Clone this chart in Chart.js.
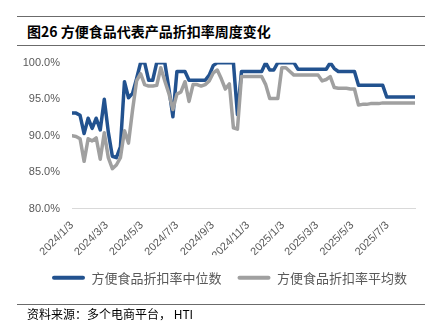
<!DOCTYPE html>
<html>
<head>
<meta charset="utf-8">
<script src="https://cdn.jsdelivr.net/npm/chart.js@4.4.0/dist/chart.umd.min.js"></script>
<style>
  body { margin: 0; width: 438px; height: 336px; position: relative; background: #fff; overflow: hidden; font-family: "Noto Sans CJK SC", sans-serif; color: #000; }
  canvas { position: absolute; left: 0; top: 0; }
  .rule { position: absolute; left: 17px; width: 408px; height: 0; border-top: 1px solid #6b6b6b; }
  #title { position: absolute; left: 27px; top: 22px; font-size: 14px; font-weight: bold; line-height: 18px; white-space: nowrap; }
  #source { position: absolute; left: 27px; top: 306px; font-size: 12px; line-height: 16px; white-space: nowrap; }
</style>
</head>
<body>
<div class="rule" style="top:16px"></div>
<div id="title">图26 方便食品代表产品折扣率周度变化</div>
<div class="rule" style="top:45px"></div>
<canvas id="chart" width="438" height="336"></canvas>
<div class="rule" style="top:304px"></div>
<div id="source">资料来源：多个电商平台， HTI</div>
<script>
'use strict';

const startDate = '2024/1/3'; // first weekly observation
const seriesNames = ['方便食品折扣率中位数', '方便食品折扣率平均数'];
const tickLabels = ['2024/1/3', '2024/3/3', '2024/5/3', '2024/7/3', '2024/9/3', '2024/11/3',
                    '2025/1/3', '2025/3/3', '2025/5/3', '2025/7/3'];
const yTicks = [80, 85, 90, 95, 100];

// weekly discount rate, %
const median = [
  93.1, 93.1, 92.8, 90.3, 92.4, 91.0, 92.4, 90.8, 95.0, 90.5,
  87.2, 87.0, 88.5, 97.4, 95.2, 95.8, 97.8, 100, 100, 97.6,
  97.6, 100, 100, 100, 96.5, 92.6, 98.8, 98.8, 98.8, 97.6,
  97.6, 97.6, 97.6, 97.6, 98.3, 99.6, 100, 100, 100, 100,
  100, 92.9, 98.8, 98.8, 98.8, 98.8, 98.8, 98.8, 100, 99.0,
  99.0, 100, 100, 100, 100, 100, 99.1, 99.1, 99.1, 99.1,
  99.1, 99.1, 99.1, 99.1, 100, 99.2, 98.8, 98.8, 98.8, 98.8,
  98.8, 96.9, 96.9, 96.9, 96.9, 96.9, 96.9, 96.9, 95.3, 95.3,
  95.3, 95.3, 95.3, 95.3, 95.3, 95.3
];
const mean = [
  90.0, 89.9, 89.6, 86.5, 89.6, 89.3, 89.7, 86.8, 90.4, 87.0,
  85.5, 86.0, 87.0, 90.7, 89.0, 93.5, 97.5, 98.5, 97.0, 96.8,
  96.8, 96.9, 99.3, 97.5, 95.8, 93.6, 95.7, 96.0, 97.4, 94.7,
  97.0, 97.0, 96.8, 97.0, 97.5, 98.6, 99.0, 97.8, 96.4, 97.1,
  91.1, 90.9, 98.1, 98.1, 98.1, 98.1, 98.1, 98.1, 97.0, 95.1,
  95.1, 95.1, 99.3, 99.3, 98.8, 98.3, 98.3, 98.3, 98.3, 98.3,
  98.3, 98.3, 97.5, 97.7, 98.1, 96.6, 96.5, 96.5, 96.5, 96.4,
  96.4, 94.2, 94.3, 94.3, 94.4, 94.4, 94.4, 94.5, 94.5, 94.5,
  94.5, 94.5, 94.5, 94.5, 94.5, 94.5
];

function dayOffset (s) {
  const [y, m, d] = s.split('/').map(Number);
  const [y0, m0, d0] = startDate.split('/').map(Number);
  return (Date.UTC(y, m - 1, d) - Date.UTC(y0, m0 - 1, d0)) / 86400000;
}

const tickDays = tickLabels.map(dayOffset);
const toPoints = arr => arr.map((v, i) => ({ x: i * 7, y: v }));

const tickColor = '#595959';

// nudge the legend right so it is centred like the original
const legendShift = {
  id: 'legendShift',
  afterLayout (chart) {
    chart.legend.left += 22;
    chart.legend.right += 22;
  }
};

new Chart(document.getElementById('chart').getContext('2d'), {
  type: 'line',
  data: {
    datasets: [
      // gray first so it sits on top, legend reversed to keep median first
      {
        label: seriesNames[1],
        data: toPoints(mean),
        borderColor: '#a0a0a0',
        backgroundColor: '#a0a0a0'
      },
      {
        label: seriesNames[0],
        data: toPoints(median),
        borderColor: '#22528f',
        backgroundColor: '#22528f'
      }
    ]
  },
  plugins: [legendShift],
  options: {
    responsive: false,
    animation: false,
    devicePixelRatio: 1,
    layout: { padding: { top: 62.7, left: 0, right: 23, bottom: 41.75 } },
    elements: {
      line: { borderWidth: 3.5, tension: 0, borderJoinStyle: 'round', borderCapStyle: 'round' },
      point: { radius: 0 }
    },
    plugins: {
      tooltip: { enabled: false },
      legend: {
        position: 'bottom',
        reverse: true,
        labels: {
          boxWidth: 33,
          boxHeight: 4,
          padding: 16,
          color: tickColor,
          useBorderRadius: true,
          borderRadius: 2,
          font: { family: '"Noto Sans CJK SC"', size: 13 },
          generateLabels: chart => Chart.defaults.plugins.legend.labels.generateLabels(chart)
            .map(item => Object.assign(item, { lineWidth: 0 }))
        }
      }
    },
    scales: {
      x: {
        type: 'linear',
        min: 0,
        max: (median.length - 1) * 7,
        grid: { display: false, drawTicks: false },
        border: { display: true, color: '#d9d9d9', width: 1 },
        afterBuildTicks: scale => { scale.ticks = tickDays.map(v => ({ value: v })); },
        afterFit: scale => { scale.height = 46.4; },
        ticks: {
          autoSkip: false,
          minRotation: 45,
          maxRotation: 45,
          padding: 10,
          color: tickColor,
          font: { family: '"Liberation Sans", sans-serif', size: 11 },
          callback: v => tickLabels[tickDays.indexOf(v)]
        }
      },
      y: {
        min: 80,
        max: 100,
        grid: { display: false, drawTicks: false },
        border: { display: false },
        afterBuildTicks: scale => { scale.ticks = yTicks.map(v => ({ value: v })); },
        afterFit: scale => { scale.width = 72; },
        ticks: {
          padding: 12,
          color: tickColor,
          font: { family: '"Liberation Sans", sans-serif', size: 11 },
          callback: v => v.toFixed(1) + '%'
        }
      }
    }
  }
});
</script>
</body>
</html>
